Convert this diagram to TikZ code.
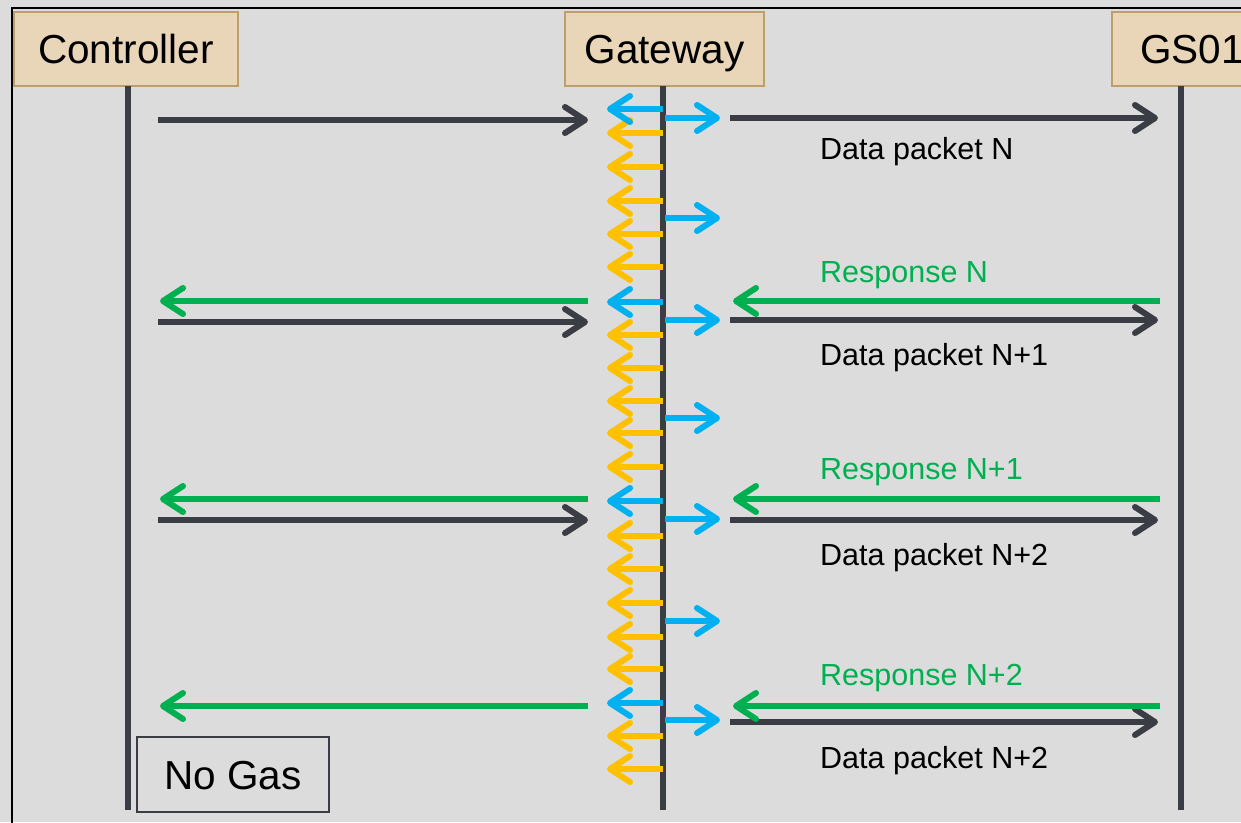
\documentclass[tikz,border=0pt]{standalone}
\usepackage{fontspec}
\setmainfont{Liberation Sans}
\usetikzlibrary{arrows.meta}
\definecolor{bg}{RGB}{220,220,220}
\definecolor{ink}{RGB}{58,61,68}
\definecolor{boxfill}{RGB}{233,213,183}
\definecolor{boxline}{RGB}{190,158,108}
\definecolor{grn}{RGB}{0,176,80}
\definecolor{blu}{RGB}{0,176,240}
\definecolor{yel}{RGB}{255,192,0}
\tikzset{
  barb/.style={line width=6pt, -{Straight Barb[length=20pt,width=26pt,line cap=round,line join=round]}},
  darkarrow/.style={barb, draw=ink},
  greenarrow/.style={barb, draw=grn},
  bluearrow/.style={barb, draw=blu},
  yelarrow/.style={barb, draw=yel},
  lifeline/.style={line width=6pt, draw=ink},
  actor/.style={draw=boxline, line width=2.5pt, fill=boxfill, minimum height=74pt,
    text height=29pt, text depth=0pt, inner sep=0pt, font=\fontsize{40.5}{48}\selectfont},
  lbl/.style={inner sep=0pt, anchor=base west, font=\fontsize{30.5}{36}\selectfont},
}
\begin{document}
\begin{tikzpicture}[x=1pt,y=-1pt]
\useasboundingbox (0,0) rectangle (1241,822);
\clip (0,0) rectangle (1241,822);
\fill[bg] (0,0) rectangle (1241,822);
\draw[black, line width=2pt] (12,8) rectangle (1300,900);

% actors
\node[actor, minimum width=224pt] (ctrl) at (126,49) {Controller};
\node[actor, minimum width=199pt] (gw) at (664.5,49) {Gateway};
\node[actor, minimum width=160pt] (gs) at (1192,49) {GS01};

% lifelines
\coordinate (cT) at (128,86);  \coordinate (cB) at (128,810);
\coordinate (gT) at (663,86);  \coordinate (gB) at (663,810);
\coordinate (sT) at (1181,86); \coordinate (sB) at (1181,810);
\draw[lifeline] (cT) -- (cB);
\draw[lifeline] (gT) -- (gB);
\draw[lifeline] (sT) -- (sB);

% message end points
\coordinate (cOut) at (158,0);
\coordinate (cIn) at (160,0);
\coordinate (gInL) at (588,0);
\coordinate (gOutR) at (730,0);
\coordinate (gInR) at (733,0);
\coordinate (sIn) at (1158,0);
\coordinate (sOut) at (1160,0);
\coordinate (gTipL) at (607,0);
\coordinate (gTipR) at (720,0);
\coordinate (gL) at (663,0);
\coordinate (gR) at (665,0);

% controller -> gateway
\foreach \y in {120,322,520}
  \draw[darkarrow] (cOut |- 0,\y) -- (gInL |- 0,\y);
% gateway -> GS01
\foreach \y in {118,320,520,722}
  \draw[darkarrow] (gOutR |- 0,\y) -- (sIn |- 0,\y);
% responses
\foreach \y in {301,499,706}{
  \draw[greenarrow] (sOut |- 0,\y) -- (gInR |- 0,\y);
  \draw[greenarrow] (gInL |- 0,\y) -- (cIn |- 0,\y);
}

% gateway local arrows
\foreach \y in {133,167,201,234,267,335,368,401,433,467,536,569,603,637,669,736,769}
  \draw[yelarrow] (gL |- 0,\y) -- (gTipL |- 0,\y);
\foreach \y in {109,302,501,703}
  \draw[bluearrow] (gL |- 0,\y) -- (gTipL |- 0,\y);
\foreach \y in {118,218,320,418,519,621,720}
  \draw[bluearrow] (gR |- 0,\y) -- (gTipR |- 0,\y);

% labels
\node[lbl] (d0) at (820,159) {Data packet N};
\node[lbl, text=grn] (r0) at (820,282) {Response N};
\node[lbl] (d1) at (820,365) {Data packet N+1};
\node[lbl, text=grn] (r1) at (820,479) {Response N+1};
\node[lbl] (d2) at (820,565) {Data packet N+2};
\node[lbl, text=grn] (r2) at (820,685) {Response N+2};
\node[lbl] (d3) at (820,768) {Data packet N+2};

% no gas
\node[draw=ink, line width=2.5pt, minimum width=192pt, minimum height=75pt,
  text height=29pt, text depth=0pt, inner sep=0pt, font=\fontsize{40.5}{48}\selectfont]
  (nogas) at (233,774.5) {No Gas};
\end{tikzpicture}
\end{document}
